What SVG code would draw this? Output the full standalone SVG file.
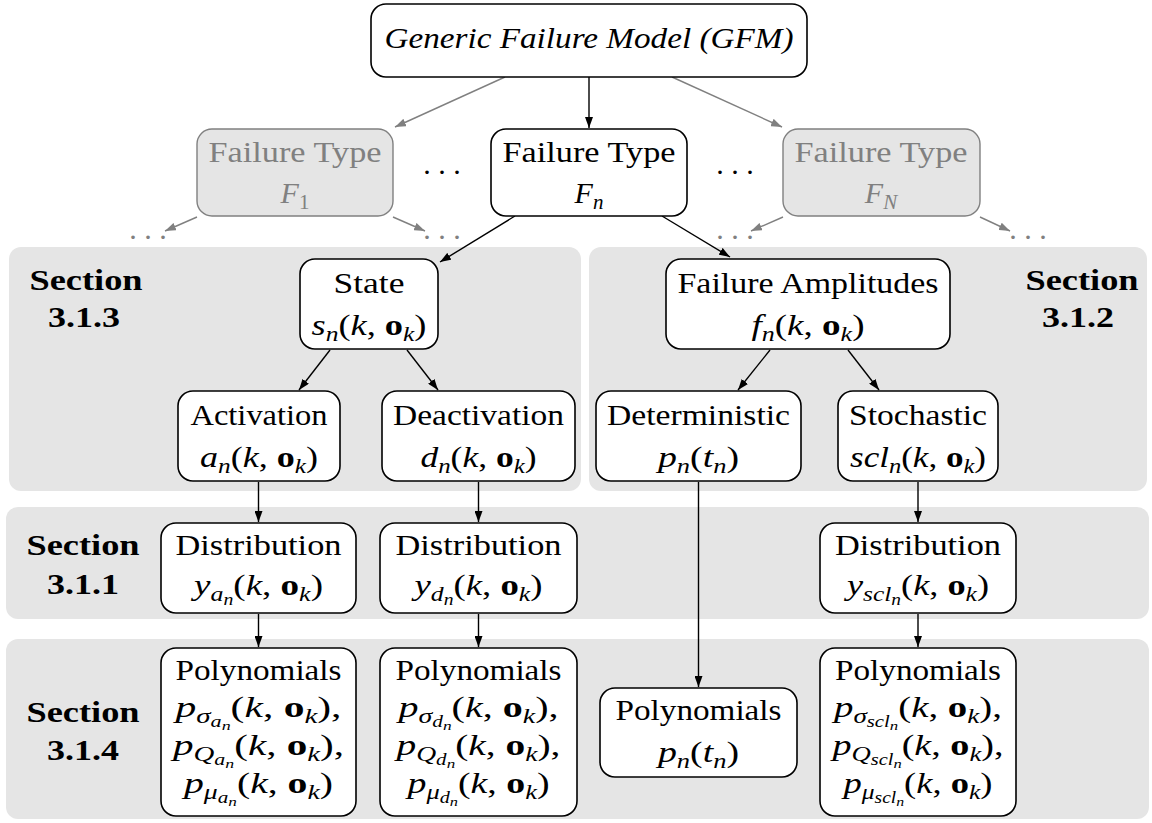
<svg xmlns="http://www.w3.org/2000/svg" width="1152" height="823" viewBox="0 0 1152 823">
  <style>
    .panel { fill: #e5e5e5; }
    .node rect { fill: #ffffff; stroke: #000000; stroke-width: 1.6; }
    .ghost rect { fill: #e5e5e5; stroke: #808080; stroke-width: 1.4; }
    .ghost text { fill: #808080; }
    text { font-family: 'Liberation Serif', 'DejaVu Serif', serif; font-size: 30px; text-anchor: middle; fill: #000000; }
    .i { font-style: italic; }
    .s1 { font-size: 21px; font-style: italic; }
    .s2 { font-size: 16px; font-style: italic; }
    .s3 { font-size: 13px; font-style: italic; }
    .up { font-style: normal; }
    .b { font-weight: bold; font-style: normal; }
    .sec { font-weight: bold; font-size: 30px; }
    .gdots { fill: #808080; }
    .edge { stroke: #000000; stroke-width: 1.4; fill: none; marker-end: url(#ah); }
    .edge.g { stroke: #808080; marker-end: url(#ahg); }
  </style>
  <defs>
    <marker id="ah" markerUnits="userSpaceOnUse" markerWidth="11" markerHeight="8" refX="11" refY="4" orient="auto">
      <path d="M0,0 L11,4 L0,8 Z" fill="#000000"/>
    </marker>
    <marker id="ahg" markerUnits="userSpaceOnUse" markerWidth="11" markerHeight="8" refX="11" refY="4" orient="auto">
      <path d="M0,0 L11,4 L0,8 Z" fill="#808080"/>
    </marker>
  </defs>

  <!-- section backgrounds and their headings -->
  <g id="sections">
    <rect class="panel" x="9" y="247" width="572" height="244" rx="12"/>
    <rect class="panel" x="589" y="247" width="558" height="244" rx="12"/>
    <rect class="panel" x="6" y="507" width="1143" height="112" rx="12"/>
    <rect class="panel" x="6" y="639" width="1143" height="180" rx="12"/>
    <text class="sec" x="86" y="290" textLength="113" lengthAdjust="spacingAndGlyphs">Section</text>
    <text class="sec" x="84" y="327" textLength="72" lengthAdjust="spacingAndGlyphs">3.1.3</text>
    <text class="sec" x="1082" y="290" textLength="113" lengthAdjust="spacingAndGlyphs">Section</text>
    <text class="sec" x="1078" y="327" textLength="72" lengthAdjust="spacingAndGlyphs">3.1.2</text>
    <text class="sec" x="83" y="555" textLength="113" lengthAdjust="spacingAndGlyphs">Section</text>
    <text class="sec" x="83" y="594" textLength="72" lengthAdjust="spacingAndGlyphs">3.1.1</text>
    <text class="sec" x="83" y="722" textLength="113" lengthAdjust="spacingAndGlyphs">Section</text>
    <text class="sec" x="83" y="760" textLength="72" lengthAdjust="spacingAndGlyphs">3.1.4</text>
  </g>

  <!-- connectors -->
  <g id="connectors">
    <line class="edge g" x1="505" y1="77" x2="395" y2="127"/>
    <line class="edge" x1="589" y1="77" x2="589" y2="128"/>
    <line class="edge g" x1="672" y1="77" x2="782" y2="127"/>
    <line class="edge g" x1="197" y1="217" x2="165" y2="231"/>
    <line class="edge g" x1="393" y1="217" x2="425" y2="231"/>
    <line class="edge g" x1="783" y1="217" x2="751" y2="231"/>
    <line class="edge g" x1="980" y1="217" x2="1010" y2="231"/>
    <line class="edge" x1="515" y1="216" x2="440" y2="262"/>
    <line class="edge" x1="662" y1="216" x2="730" y2="257"/>
    <line class="edge" x1="330" y1="350" x2="299" y2="390"/>
    <line class="edge" x1="407" y1="350" x2="438" y2="390"/>
    <line class="edge" x1="770" y1="350" x2="738" y2="390"/>
    <line class="edge" x1="848" y1="350" x2="879" y2="390"/>
    <line class="edge" x1="258.5" y1="482" x2="258.5" y2="522"/>
    <line class="edge" x1="478.5" y1="482" x2="478.5" y2="522"/>
    <line class="edge" x1="918" y1="482" x2="918" y2="522"/>
    <line class="edge" x1="258.5" y1="614" x2="258.5" y2="647"/>
    <line class="edge" x1="478.5" y1="614" x2="478.5" y2="647"/>
    <line class="edge" x1="918" y1="614" x2="918" y2="647"/>
    <line class="edge" x1="698.5" y1="482" x2="698.5" y2="687"/>
  </g>

  <!-- ellipsis markers -->
  <g id="ellipses">
    <text x="442" y="174">. . .</text>
    <text x="735" y="174">. . .</text>
    <text class="gdots" x="148" y="239">. . .</text>
    <text class="gdots" x="442" y="239">. . .</text>
    <text class="gdots" x="735" y="239">. . .</text>
    <text class="gdots" x="1028" y="239">. . .</text>
  </g>

  <g id="gfm" class="node">
    <rect x="371" y="4" width="436" height="73" rx="15"/>
    <text class="i" x="589" y="48" textLength="409" lengthAdjust="spacingAndGlyphs">Generic Failure Model (GFM)</text>
  </g>

  <g id="type-1" class="ghost">
    <rect x="197" y="129" width="196" height="87" rx="15"/>
    <text x="295" y="162" textLength="173" lengthAdjust="spacingAndGlyphs">Failure Type</text>
    <text x="295" y="203"><tspan class="i">F</tspan><tspan class="s1 up" dy="6">1</tspan></text>
  </g>

  <g id="type-n" class="node">
    <rect x="491" y="129" width="196" height="87" rx="15"/>
    <text x="589" y="162" textLength="173" lengthAdjust="spacingAndGlyphs">Failure Type</text>
    <text x="589" y="203"><tspan class="i">F</tspan><tspan class="s1" dy="6">n</tspan></text>
  </g>

  <g id="type-N" class="ghost">
    <rect x="783" y="129" width="197" height="87" rx="15"/>
    <text x="881" y="162" textLength="173" lengthAdjust="spacingAndGlyphs">Failure Type</text>
    <text x="881" y="203"><tspan class="i">F</tspan><tspan class="s1" dy="6">N</tspan></text>
  </g>

  <g id="state" class="node">
    <rect x="300" y="259" width="138" height="90" rx="15"/>
    <text x="369" y="293" textLength="71" lengthAdjust="spacingAndGlyphs">State</text>
    <text x="369" y="335" textLength="115" lengthAdjust="spacingAndGlyphs"><tspan class="i">s</tspan><tspan class="s1" dy="6">n</tspan><tspan dy="-6">(</tspan><tspan class="i">k</tspan>, <tspan class="b">o</tspan><tspan class="s1" dy="6">k</tspan><tspan dy="-6">)</tspan></text>
  </g>

  <g id="amplitudes" class="node">
    <rect x="666" y="259" width="284" height="90" rx="15"/>
    <text x="808" y="293" textLength="261" lengthAdjust="spacingAndGlyphs">Failure Amplitudes</text>
    <text x="808" y="335" textLength="113" lengthAdjust="spacingAndGlyphs"><tspan class="i">f</tspan><tspan class="s1" dy="6">n</tspan><tspan dy="-6">(</tspan><tspan class="i">k</tspan>, <tspan class="b">o</tspan><tspan class="s1" dy="6">k</tspan><tspan dy="-6">)</tspan></text>
  </g>

  <g id="activation" class="node">
    <rect x="178" y="391" width="162" height="90" rx="15"/>
    <text x="259" y="425" textLength="137" lengthAdjust="spacingAndGlyphs">Activation</text>
    <text x="259" y="467" textLength="118" lengthAdjust="spacingAndGlyphs"><tspan class="i">a</tspan><tspan class="s1" dy="6">n</tspan><tspan dy="-6">(</tspan><tspan class="i">k</tspan>, <tspan class="b">o</tspan><tspan class="s1" dy="6">k</tspan><tspan dy="-6">)</tspan></text>
  </g>

  <g id="deactivation" class="node">
    <rect x="382" y="391" width="193" height="90" rx="15"/>
    <text x="478.5" y="425" textLength="171" lengthAdjust="spacingAndGlyphs">Deactivation</text>
    <text x="478.5" y="467" textLength="116" lengthAdjust="spacingAndGlyphs"><tspan class="i">d</tspan><tspan class="s1" dy="6">n</tspan><tspan dy="-6">(</tspan><tspan class="i">k</tspan>, <tspan class="b">o</tspan><tspan class="s1" dy="6">k</tspan><tspan dy="-6">)</tspan></text>
  </g>

  <g id="deterministic" class="node">
    <rect x="596" y="391" width="205" height="90" rx="15"/>
    <text x="698.5" y="425" textLength="183" lengthAdjust="spacingAndGlyphs">Deterministic</text>
    <text x="698.5" y="467" textLength="81" lengthAdjust="spacingAndGlyphs"><tspan class="i">p</tspan><tspan class="s1" dy="6">n</tspan><tspan dy="-6">(</tspan><tspan class="i">t</tspan><tspan class="s1" dy="6">n</tspan><tspan dy="-6">)</tspan></text>
  </g>

  <g id="stochastic" class="node">
    <rect x="838" y="391" width="160" height="90" rx="15"/>
    <text x="918" y="425" textLength="138" lengthAdjust="spacingAndGlyphs">Stochastic</text>
    <text x="918" y="467" textLength="136" lengthAdjust="spacingAndGlyphs"><tspan class="i">scl</tspan><tspan class="s1" dy="6">n</tspan><tspan dy="-6">(</tspan><tspan class="i">k</tspan>, <tspan class="b">o</tspan><tspan class="s1" dy="6">k</tspan><tspan dy="-6">)</tspan></text>
  </g>

  <g id="dist-a" class="node">
    <rect x="161" y="523" width="195" height="90" rx="15"/>
    <text x="258.5" y="555" textLength="166" lengthAdjust="spacingAndGlyphs">Distribution</text>
    <text x="258.5" y="595" textLength="129" lengthAdjust="spacingAndGlyphs"><tspan class="i">y</tspan><tspan class="s1" dy="6">a</tspan><tspan class="s2" dy="4">n</tspan><tspan dy="-10">(</tspan><tspan class="i">k</tspan>, <tspan class="b">o</tspan><tspan class="s1" dy="6">k</tspan><tspan dy="-6">)</tspan></text>
  </g>

  <g id="dist-d" class="node">
    <rect x="380" y="523" width="197" height="90" rx="15"/>
    <text x="478.5" y="555" textLength="166" lengthAdjust="spacingAndGlyphs">Distribution</text>
    <text x="478.5" y="595" textLength="128" lengthAdjust="spacingAndGlyphs"><tspan class="i">y</tspan><tspan class="s1" dy="6">d</tspan><tspan class="s2" dy="4">n</tspan><tspan dy="-10">(</tspan><tspan class="i">k</tspan>, <tspan class="b">o</tspan><tspan class="s1" dy="6">k</tspan><tspan dy="-6">)</tspan></text>
  </g>

  <g id="dist-scl" class="node">
    <rect x="820" y="523" width="196" height="90" rx="15"/>
    <text x="918" y="555" textLength="166" lengthAdjust="spacingAndGlyphs">Distribution</text>
    <text x="918" y="595" textLength="142" lengthAdjust="spacingAndGlyphs"><tspan class="i">y</tspan><tspan class="s1" dy="6">scl</tspan><tspan class="s2" dy="4">n</tspan><tspan dy="-10">(</tspan><tspan class="i">k</tspan>, <tspan class="b">o</tspan><tspan class="s1" dy="6">k</tspan><tspan dy="-6">)</tspan></text>
  </g>

  <g id="poly-a" class="node">
    <rect x="161" y="648" width="195" height="168" rx="15"/>
    <text x="258.5" y="680" textLength="166" lengthAdjust="spacingAndGlyphs">Polynomials</text>
    <text x="258.5" y="717" textLength="166" lengthAdjust="spacingAndGlyphs"><tspan class="i">p</tspan><tspan class="s1" dy="6">σ</tspan><tspan class="s2" dy="4">a</tspan><tspan class="s3" dy="3">n</tspan><tspan dy="-13">(</tspan><tspan class="i">k</tspan>, <tspan class="b">o</tspan><tspan class="s1" dy="6">k</tspan><tspan dy="-6">),</tspan></text>
    <text x="258.5" y="755" textLength="171" lengthAdjust="spacingAndGlyphs"><tspan class="i">p</tspan><tspan class="s1" dy="6">Q</tspan><tspan class="s2" dy="4">a</tspan><tspan class="s3" dy="3">n</tspan><tspan dy="-13">(</tspan><tspan class="i">k</tspan>, <tspan class="b">o</tspan><tspan class="s1" dy="6">k</tspan><tspan dy="-6">),</tspan></text>
    <text x="258.5" y="793" textLength="149" lengthAdjust="spacingAndGlyphs"><tspan class="i">p</tspan><tspan class="s1" dy="6">μ</tspan><tspan class="s2" dy="4">a</tspan><tspan class="s3" dy="3">n</tspan><tspan dy="-13">(</tspan><tspan class="i">k</tspan>, <tspan class="b">o</tspan><tspan class="s1" dy="6">k</tspan><tspan dy="-6">)</tspan></text>
  </g>

  <g id="poly-d" class="node">
    <rect x="380" y="648" width="197" height="168" rx="15"/>
    <text x="478.5" y="680" textLength="166" lengthAdjust="spacingAndGlyphs">Polynomials</text>
    <text x="478.5" y="717" textLength="160" lengthAdjust="spacingAndGlyphs"><tspan class="i">p</tspan><tspan class="s1" dy="6">σ</tspan><tspan class="s2" dy="4">d</tspan><tspan class="s3" dy="3">n</tspan><tspan dy="-13">(</tspan><tspan class="i">k</tspan>, <tspan class="b">o</tspan><tspan class="s1" dy="6">k</tspan><tspan dy="-6">),</tspan></text>
    <text x="478.5" y="755" textLength="164" lengthAdjust="spacingAndGlyphs"><tspan class="i">p</tspan><tspan class="s1" dy="6">Q</tspan><tspan class="s2" dy="4">d</tspan><tspan class="s3" dy="3">n</tspan><tspan dy="-13">(</tspan><tspan class="i">k</tspan>, <tspan class="b">o</tspan><tspan class="s1" dy="6">k</tspan><tspan dy="-6">),</tspan></text>
    <text x="478.5" y="793" textLength="142" lengthAdjust="spacingAndGlyphs"><tspan class="i">p</tspan><tspan class="s1" dy="6">μ</tspan><tspan class="s2" dy="4">d</tspan><tspan class="s3" dy="3">n</tspan><tspan dy="-13">(</tspan><tspan class="i">k</tspan>, <tspan class="b">o</tspan><tspan class="s1" dy="6">k</tspan><tspan dy="-6">)</tspan></text>
  </g>

  <g id="poly-det" class="node">
    <rect x="600" y="688" width="197" height="89" rx="15"/>
    <text x="698.5" y="720" textLength="166" lengthAdjust="spacingAndGlyphs">Polynomials</text>
    <text x="698.5" y="762" textLength="81" lengthAdjust="spacingAndGlyphs"><tspan class="i">p</tspan><tspan class="s1" dy="6">n</tspan><tspan dy="-6">(</tspan><tspan class="i">t</tspan><tspan class="s1" dy="6">n</tspan><tspan dy="-6">)</tspan></text>
  </g>

  <g id="poly-scl" class="node">
    <rect x="820" y="648" width="196" height="168" rx="15"/>
    <text x="918" y="680" textLength="166" lengthAdjust="spacingAndGlyphs">Polynomials</text>
    <text x="918" y="717" textLength="168" lengthAdjust="spacingAndGlyphs"><tspan class="i">p</tspan><tspan class="s1" dy="6">σ</tspan><tspan class="s2" dy="4">scl</tspan><tspan class="s3" dy="3">n</tspan><tspan dy="-13">(</tspan><tspan class="i">k</tspan>, <tspan class="b">o</tspan><tspan class="s1" dy="6">k</tspan><tspan dy="-6">),</tspan></text>
    <text x="918" y="755" textLength="171" lengthAdjust="spacingAndGlyphs"><tspan class="i">p</tspan><tspan class="s1" dy="6">Q</tspan><tspan class="s2" dy="4">scl</tspan><tspan class="s3" dy="3">n</tspan><tspan dy="-13">(</tspan><tspan class="i">k</tspan>, <tspan class="b">o</tspan><tspan class="s1" dy="6">k</tspan><tspan dy="-6">),</tspan></text>
    <text x="918" y="793" textLength="149" lengthAdjust="spacingAndGlyphs"><tspan class="i">p</tspan><tspan class="s1" dy="6">μ</tspan><tspan class="s2" dy="4">scl</tspan><tspan class="s3" dy="3">n</tspan><tspan dy="-13">(</tspan><tspan class="i">k</tspan>, <tspan class="b">o</tspan><tspan class="s1" dy="6">k</tspan><tspan dy="-6">)</tspan></text>
  </g>
</svg>
